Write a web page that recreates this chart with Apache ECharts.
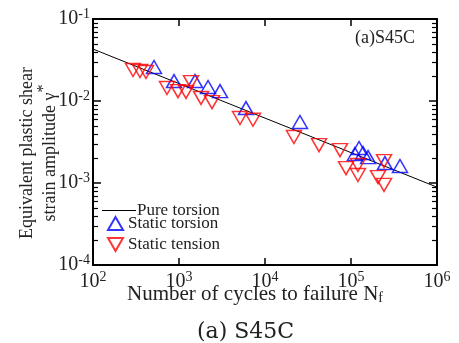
<!DOCTYPE html>
<html>
<head>
<meta charset="utf-8">
<script src="https://cdn.jsdelivr.net/npm/echarts@6/dist/echarts.min.js"></script>
<style>
  html, body { margin: 0; padding: 0; background: #fff; }
  #chart { width: 459px; height: 343px; }
</style>
</head>
<body>
<div id="chart"></div>
<script>
// pure torsion fit line (two ends)
const pureN = [100, 1000000];
const pureGamma = [0.043, 0.00089];

// static torsion (up triangles)
const torsionN = [512, 875, 1535, 2175, 3000, 6010, 25500, 111000, 124000, 138000, 158000, 248000, 371000];
const torsionGamma = [0.026, 0.0175, 0.0175, 0.0148, 0.0132, 0.0082, 0.00555, 0.00226, 0.00267, 0.00232, 0.00207, 0.00175, 0.00161];

// static tension (down triangles)
const tensionN = [292, 352, 413, 725, 973, 1206, 1380, 1803, 2420, 5120, 7250, 21700, 42500, 74500, 87500, 120500, 120500, 242000, 206000, 242000];
const tensionGamma = [0.0239, 0.0232, 0.0226, 0.0144, 0.0132, 0.0129, 0.017, 0.0109, 0.0097, 0.0062, 0.0059, 0.00364, 0.0029, 0.00252, 0.00152, 0.00166, 0.00125, 0.00185, 0.00118, 0.00095];

// y minor ticks (2..9 in each decade)
const yMinorTicks = [];
for (const d of [0.0001, 0.001, 0.01]) {
  for (let m = 2; m <= 9; m++) yMinorTicks.push(d * m);
}

const xMin = 100, xMax = 1000000;
const serif = 'Liberation Serif';
const zip = (a, b) => a.map((v, i) => [v, b[i]]);

const expLabel = (v) => '{b|10}{sup|' + Math.round(Math.log10(v)) + '}';
const supRich = {
  b: { fontFamily: serif, fontSize: 20, color: '#222' },
  sup: { fontFamily: serif, fontSize: 14, color: '#222', padding: [0, 0, 10, 0] }
};

const chart = echarts.init(document.getElementById('chart'));

const tickStyle = { color: '#000', width: 1.5 };

const option = {
  animation: false,
  backgroundColor: '#fff',
  title: {
    text: '(a) S45C',
    left: 192,
    top: 316,
    textStyle: { fontFamily: 'DejaVu Serif', fontSize: 22, fontWeight: 'normal', color: '#222' }
  },
  grid: {
    left: 93, right: 22, top: 19, bottom: 78,
    show: true, borderColor: '#000', borderWidth: 2, backgroundColor: 'transparent'
  },
  legend: [
    {
      data: [{ name: 'Pure torsion', icon: 'rect', itemStyle: { color: '#000' } }],
      left: 97, top: 197,
      itemWidth: 34, itemHeight: 1.2, itemGap: 2,
      textStyle: { fontFamily: serif, fontSize: 17, color: '#222', padding: [0, 0, 0, -4] }
    },
    {
      data: ['Static torsion', 'Static tension'],
      orient: 'vertical',
      left: 102, top: 210,
      itemWidth: 15, itemHeight: 13, itemGap: 4,
      textStyle: { fontFamily: serif, fontSize: 17, color: '#222' }
    }
  ],
  xAxis: [
    {
      type: 'log', logBase: 10, min: xMin, max: xMax,
      name: 'Number of cycles to failure N{sub|f}',
      nameLocation: 'middle', nameGap: 18, nameMoveOverlap: false,
      nameTextStyle: {
        fontFamily: serif, fontSize: 21, color: '#222',
        padding: [0, 20, 0, 0],
        rich: { sub: { fontFamily: serif, fontSize: 14, color: '#222', padding: [8, 0, 0, 0] } }
      },
      axisLine: { show: false },
      axisTick: { inside: true, length: 7, lineStyle: tickStyle },
      splitLine: { show: false },
      axisLabel: { formatter: expLabel, rich: supRich, margin: 5 }
    },
    {
      type: 'log', logBase: 10, min: xMin, max: xMax, position: 'top',
      axisLine: { show: false },
      axisTick: { inside: true, length: 7, lineStyle: tickStyle },
      splitLine: { show: false },
      axisLabel: { show: false }
    }
  ],
  yAxis: [
    {
      type: 'log', logBase: 10, min: 0.0001, max: 0.1,
      name: 'Equivalent plastic shear\nstrain amplitude γ{s|*}',
      nameLocation: 'middle', nameGap: 31, nameRotate: 90, nameMoveOverlap: false,
      nameTextStyle: {
        fontFamily: serif, fontSize: 18, color: '#222', lineHeight: 23,
        padding: [0, 22, 0, 0],
        rich: { s: { fontFamily: serif, fontSize: 16, color: '#222', padding: [0, 0, 14, 0] } }
      },
      axisLine: { show: false },
      axisTick: { inside: true, length: 8, lineStyle: tickStyle },
      splitLine: { show: false },
      axisLabel: { formatter: expLabel, rich: supRich, margin: 3 }
    },
    {
      type: 'log', logBase: 10, min: 0.0001, max: 0.1, position: 'right',
      axisLine: { show: false },
      axisTick: { inside: true, length: 8, lineStyle: tickStyle },
      splitLine: { show: false },
      axisLabel: { show: false }
    }
  ],
  series: [
    {
      name: 'Pure torsion',
      type: 'line',
      data: zip(pureN, pureGamma),
      showSymbol: false,
      symbol: 'none',
      lineStyle: { color: '#000', width: 1 },
      itemStyle: { color: '#000' },
      z: 1
    },
    {
      name: 'Static torsion',
      type: 'scatter',
      data: zip(torsionN, torsionGamma),
      symbol: 'triangle',
      symbolSize: [15, 13],
      itemStyle: { color: 'rgba(0,0,0,0)', borderColor: '#0000ff', borderWidth: 1.5 },
      z: 3
    },
    {
      name: 'Static tension',
      type: 'scatter',
      data: zip(tensionN, tensionGamma),
      symbol: 'path://M0,0L10,0L5,8.66Z',
      symbolSize: [15, 13],
      itemStyle: { color: 'rgba(0,0,0,0)', borderColor: '#ff0000', borderWidth: 1.5 },
      z: 3
    }
  ],
  graphic: [
    {
      id: 'panelTag',
      type: 'text',
      right: 44, top: 29,
      style: { text: '(a)S45C', fontFamily: serif, fontSize: 18, fill: '#222' }
    }
  ]
};

chart.setOption(option);

// minor ticks on the left and right frame, placed through the axis scale
const minorTicks = [];
yMinorTicks.forEach((v, i) => {
  const l = chart.convertToPixel({ xAxisIndex: 0, yAxisIndex: 0 }, [xMin, v]);
  const r = chart.convertToPixel({ xAxisIndex: 0, yAxisIndex: 0 }, [xMax, v]);
  if (!l || !r) return;
  const y = Math.round(l[1]) + 0.5;
  minorTicks.push(
    { id: 'ml' + i, type: 'line', z: 100, shape: { x1: l[0], y1: y, x2: l[0] + 5, y2: y }, style: { stroke: '#000', lineWidth: 1.2 } },
    { id: 'mr' + i, type: 'line', z: 100, shape: { x1: r[0] - 5, y1: y, x2: r[0], y2: y }, style: { stroke: '#000', lineWidth: 1.2 } }
  );
});
chart.setOption({ graphic: minorTicks });
</script>
</body>
</html>
